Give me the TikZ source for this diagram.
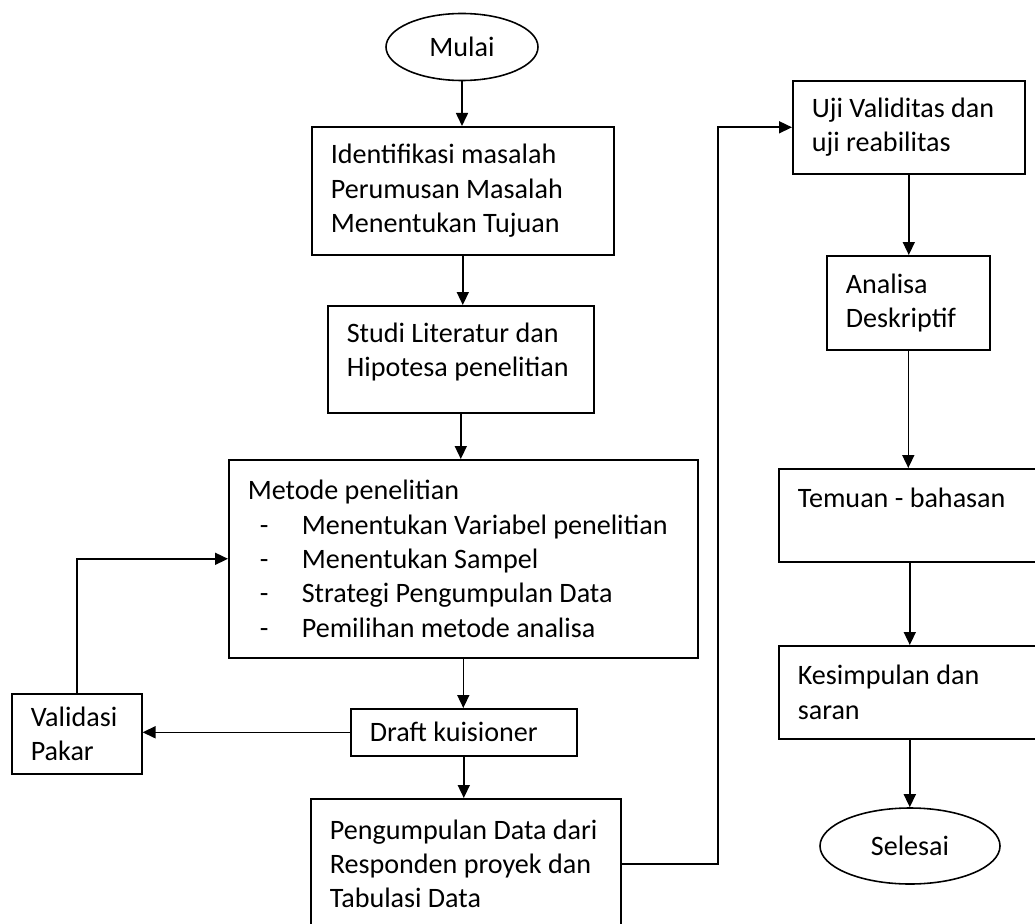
\documentclass[tikz,border=0pt]{standalone}
\usepackage{fontspec}
\setmainfont{Carlito}
\usetikzlibrary{shapes.geometric,arrows.meta}

\newcommand{\butir}{\makebox[1.08cm][l]{\hspace{0.24cm}-}}

\tikzset{
  box/.style = {draw, line width = 0.9pt, anchor = north west, align = flush left,
    inner xsep = 0.38cm, inner ysep = 0pt, font = \fontsize{16}{19.6}\selectfont},
  terminal/.style = {draw, ellipse, line width = 0.9pt, inner sep = 0pt,
    font = \fontsize{16}{19.6}\selectfont},
  flow/.style = {line width = 0.9pt, -{Triangle[length = 0.26cm, width = 0.24cm]}}
}

\begin{document}
\begin{tikzpicture}
    \useasboundingbox (0, 0) rectangle (20.70, -18.48);
    \clip (0, 0) rectangle (20.70, -18.48);

    % left column
    \node[terminal, minimum width = 3.04cm, minimum height = 1.34cm] (mulai) at (9.24, -0.94) {Mulai};
    \node[box, text width = 5.28cm, minimum height = 2.56cm] (identifikasi) at (6.22, -2.52)
      {Identifikasi masalah\\ Perumusan Masalah\\ Menentukan Tujuan};
    \node[box, text width = 4.56cm, minimum height = 2.14cm] (studi) at (6.54, -6.10)
      {Studi Literatur dan\\ Hipotesa penelitian\\[-0.3cm] \mbox{}};
    \node[box, text width = 8.62cm, minimum height = 3.96cm] (metode) at (4.56, -9.18)
      {Metode penelitian\\
       \butir Menentukan Variabel penelitian\\
       \butir Menentukan Sampel\\
       \butir Strategi Pengumpulan Data\\
       \butir Pemilihan metode analisa};
    \node[box, text width = 1.84cm, minimum height = 1.60cm] (validasi) at (0.22, -13.86)
      {Validasi\\ Pakar};
    \node[box, text width = 3.76cm, minimum height = 0.94cm] (draft) at (7.00, -14.16)
      {Draft kuisioner};
    \node[box, text width = 5.44cm, minimum height = 2.60cm] (kumpul) at (6.20, -15.96)
      {Pengumpulan Data dari\\ Responden proyek dan\\ Tabulasi Data};

    % right column
    \node[box, text width = 3.88cm, minimum height = 1.86cm] (uji) at (15.84, -1.60)
      {Uji Validitas dan\\ uji reabilitas};
    \node[box, text width = 2.50cm, minimum height = 1.88cm] (analisa) at (16.52, -5.10)
      {Analisa\\ Deskriptif};
    \node[box, text width = 4.48cm, minimum height = 1.86cm] (temuan) at (15.56, -9.36)
      {Temuan - bahasan\\ \mbox{}};
    \node[box, text width = 4.48cm, minimum height = 1.86cm] (simpul) at (15.56, -12.90)
      {Kesimpulan dan\\ saran};
    \node[terminal, minimum width = 3.60cm, minimum height = 1.52cm] (selesai) at (18.20, -16.92) {Selesai};

    \coordinate (belok) at (14.36, 0);

    \draw[flow] (mulai.south) -- (mulai.south |- identifikasi.north);
    \draw[flow] (identifikasi.south) -- (identifikasi.south |- studi.north);
    \draw[flow] (studi.south) -- (studi.south |- metode.north);
    \draw[flow] (metode.south) -- (metode.south |- draft.north);
    \draw[flow] (draft.south) -- (draft.south |- kumpul.north);
    \draw[flow] (draft.west) -- (draft.west -| validasi.east);
    \draw[flow] (validasi.north) |- (metode.west);
    \draw[flow] (kumpul.east) -- (kumpul.east -| belok) -- (belok |- uji.west) -- (uji.west);

    \draw[flow] (uji.south) -- (uji.south |- analisa.north);
    \draw[flow] (analisa.south) -- (analisa.south |- temuan.north);
    \draw[flow] (temuan.south) -- (temuan.south |- simpul.north);
    \draw[flow] (simpul.south) -- (simpul.south |- selesai.north);
\end{tikzpicture}
\end{document}
